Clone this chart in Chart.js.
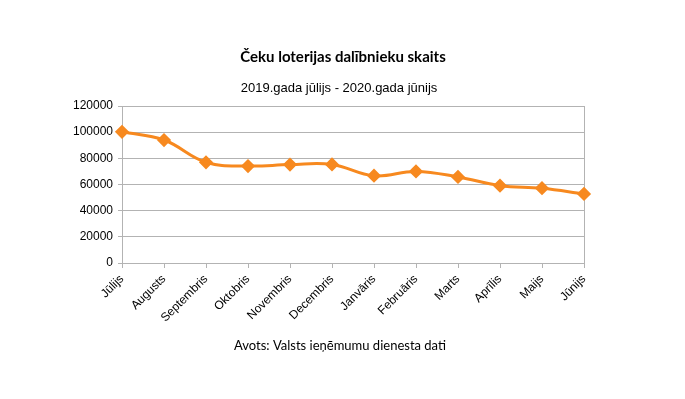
<!DOCTYPE html>
<html>
<head>
<meta charset="utf-8">
<script src="https://cdn.jsdelivr.net/npm/chart.js@4/dist/chart.umd.min.js"></script>
<style>
html,body{margin:0;padding:0;background:#fff;}
#wrap{width:685px;height:399px;position:relative;}
</style>
</head>
<body>
<div id="wrap"><canvas id="c" width="685" height="399"></canvas></div>
<script>
const categories = ["Jūlijs","Augusts","Septembris","Oktobris","Novembris","Decembris","Janvāris","Februāris","Marts","Aprīlis","Maijs","Jūnijs"];
const participants = [100300, 94000, 77000, 74100, 75200, 75300, 66700, 70000, 65800, 59100, 57200, 52800];
const titleText = "Čeku loterijas dalībnieku skaits";
const subtitleText = "2019.gada jūlijs - 2020.gada jūnijs";
const sourceText = "Avots: Valsts ieņēmumu dienesta dati";
const yMin = 0, yMax = 120000, yStep = 20000;

const orange = "#f7891f";
const gridGray = "#b3b3b3";

const textPlugin = {
  id: 'pageText',
  afterDraw(chart) {
    const ctx = chart.ctx;
    ctx.save();
    ctx.fillStyle = "#000";
    ctx.textAlign = "center";
    ctx.textBaseline = "middle";
    ctx.font = "bold 15px Lato";
    ctx.fillText(titleText, 343, 57);
    ctx.font = "13px 'Liberation Sans'";
    ctx.fillText(subtitleText, 339, 88);
    ctx.font = "13px Lato";
    ctx.fillText(sourceText, 340, 346);
    ctx.restore();
  }
};

new Chart(document.getElementById('c'), {
  type: 'line',
  data: {
    labels: categories,
    datasets: [{
      data: participants,
      borderColor: orange,
      backgroundColor: orange,
      borderWidth: 3,
      tension: 0.4,
      pointStyle: 'rectRot',
      pointRadius: 5,
      pointHoverRadius: 5,
      pointBackgroundColor: orange,
      pointBorderColor: orange,
      fill: false
    }]
  },
  options: {
    responsive: false,
    animation: false,
    devicePixelRatio: 1,
    layout: { padding: { left: 0, right: 101, top: 106, bottom: 66 } },
    plugins: {
      legend: { display: false },
      tooltip: { enabled: false },
      title: { display: false },
      subtitle: { display: false }
    },
    scales: {
      x: {
        offset: false,
        afterFit(scale) { scale.height = 70; },
        grid: {
          drawOnChartArea: true,
          color: (c) => (c.index === categories.length - 1 ? gridGray : 'transparent'),
          tickColor: gridGray,
          tickLength: 5
        },
        border: { display: true, color: gridGray },
        ticks: {
          minRotation: 45,
          maxRotation: 45,
          autoSkip: false,
          padding: 4,
          color: "#000",
          font: { family: "'Liberation Sans'", size: 12 }
        }
      },
      y: {
        min: yMin,
        max: yMax,
        afterFit(scale) { scale.width = 122; },
        grid: { color: gridGray, tickColor: gridGray, tickLength: 4 },
        border: { display: true, color: gridGray },
        ticks: {
          stepSize: yStep,
          padding: 5,
          color: "#000",
          font: { family: "'Liberation Sans'", size: 12 },
          callback: (v) => String(v)
        }
      }
    }
  },
  plugins: [textPlugin]
});
</script>
</body>
</html>
